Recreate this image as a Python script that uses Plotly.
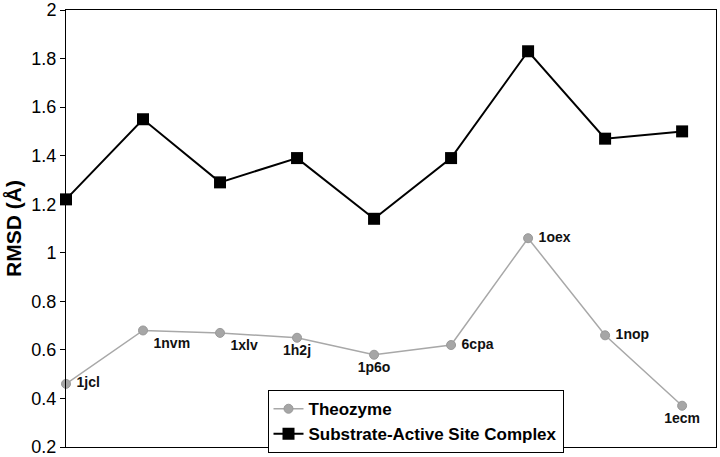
import plotly.graph_objects as go

# data
pdb_ids = ["1jcl", "1nvm", "1xlv", "1h2j", "1p6o", "6cpa", "1oex", "1nop", "1ecm"]
theozyme = [0.46, 0.68, 0.67, 0.65, 0.58, 0.62, 1.06, 0.66, 0.37]
complex_rmsd = [1.22, 1.55, 1.29, 1.39, 1.14, 1.39, 1.83, 1.47, 1.50]
label_pos = ["middle right", "bottom right", "bottom right", "bottom center",
             "bottom center", "middle right", "middle right", "middle right",
             "bottom center"]
y_ticks = [0.2, 0.4, 0.6, 0.8, 1, 1.2, 1.4, 1.6, 1.8, 2]

FONT = "Liberation Sans, Arial, sans-serif"
xs = list(range(len(pdb_ids)))

fig = go.Figure()

fig.add_trace(go.Scatter(
    x=xs, y=theozyme, name="Theozyme",
    mode="lines+markers+text",
    text=[" " + p + " " for p in pdb_ids],
    textposition=label_pos,
    textfont=dict(family=FONT, size=14, color="#111", weight="bold"),
    line=dict(color="#a8a8a8", width=1.5),
    marker=dict(symbol="circle", size=9, color="#a6a6a6",
                line=dict(color="#999", width=1)),
    cliponaxis=False,
))

fig.add_trace(go.Scatter(
    x=xs, y=complex_rmsd, name="Substrate-Active Site Complex",
    mode="lines+markers",
    line=dict(color="#000", width=2),
    marker=dict(symbol="square", size=12, color="#000"),
    cliponaxis=False,
))

fig.update_layout(
    width=720, height=457,
    margin=dict(l=66, r=4, t=10, b=6),
    paper_bgcolor="white", plot_bgcolor="white",
    font=dict(family=FONT, color="#000"),
    legend=dict(
        x=0.31, y=0.13, xanchor="left", yanchor="top",
        bgcolor="white", bordercolor="#000", borderwidth=1,
        font=dict(family=FONT, size=17, color="#000", weight="bold"),
        tracegroupgap=0, itemwidth=30,
    ),
)

fig.update_xaxes(
    range=[0, 8.44], showticklabels=False, ticks="", showgrid=False,
    zeroline=False, showline=True, linecolor="#000", linewidth=1, mirror=True,
    automargin=False,
)
fig.update_yaxes(
    range=[0.2, 2], tickvals=y_ticks, ticktext=[f"{v:g}" for v in y_ticks],
    ticks="outside", ticklen=5, tickcolor="#000", ticklabeloverflow="allow",
    tickfont=dict(family=FONT, size=18, color="#000"),
    showgrid=False, zeroline=False, automargin=False,
    showline=True, linecolor="#000", linewidth=1, mirror=True,
    title=dict(text="RMSD (Å)", font=dict(family=FONT, size=21, color="#000", weight="bold"),
               standoff=4),
)

# drop the browser's default body margin so the figure sits at the page corner
fig.write_html("out.html", config={"displayModeBar": False},
               post_script="document.body.style.margin='0';")
